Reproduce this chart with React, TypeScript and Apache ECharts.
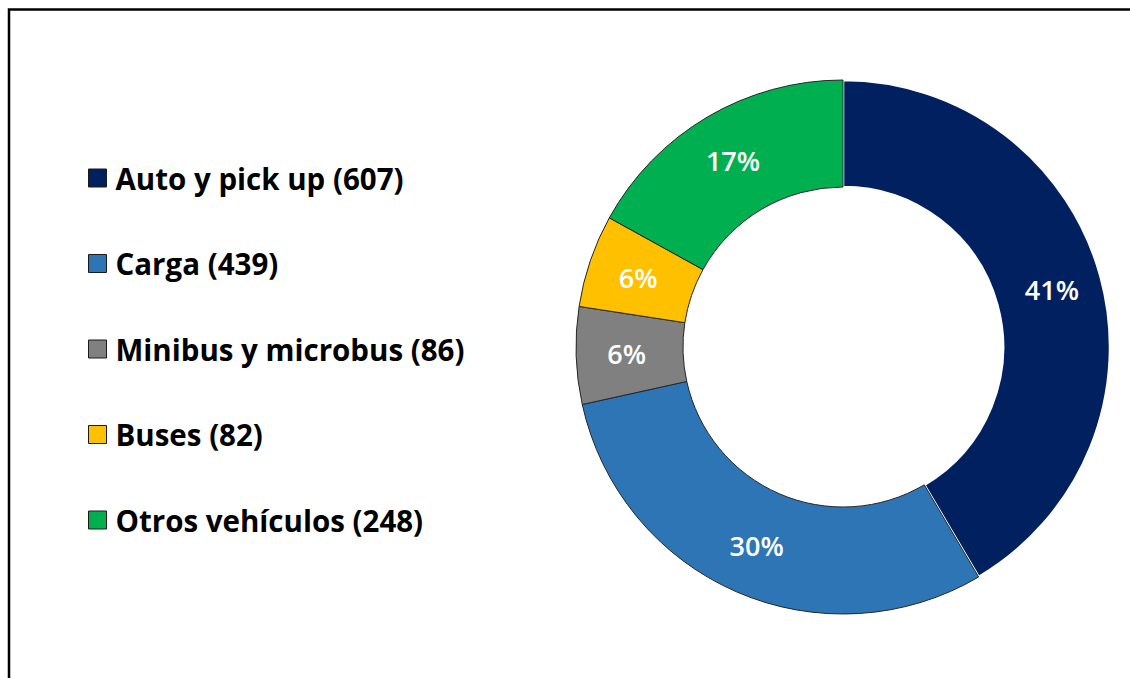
import React, { useEffect, useRef } from "react";
import * as echarts from "echarts";

const categories = ["Auto y pick up", "Carga", "Minibus y microbus", "Buses", "Otros vehículos"];
const counts = [607, 439, 86, 82, 248];
const colors = ["#002060", "#2E75B6", "#808080", "#FFC000", "#00B050"];

export default function App() {
  const ref = useRef<HTMLDivElement>(null);
  useEffect(() => {
    if (!ref.current) return;
    const chart = echarts.init(ref.current, null, { renderer: "svg" });
    chart.setOption({
      animation: false,
      backgroundColor: "#ffffff",
      graphic: [
        {
          type: "rect",
          shape: { x: 9, y: 9.5, width: 1300, height: 900 },
          style: { fill: "none", stroke: "#000000", lineWidth: 2.5 },
          silent: true,
        },
      ],
      legend: {
        orient: "vertical",
        left: 88,
        top: 163,
        padding: 0,
        itemWidth: 18,
        itemHeight: 18,
        itemGap: 55.5,
        icon: "rect",
        itemStyle: { borderColor: "#1a1a1a", borderWidth: 1 },
        formatter: (name: string) => {
          const i = categories.indexOf(name);
          return `${name} (${counts[i]})`;
        },
        textStyle: {
          fontFamily: "Open Sans",
          fontWeight: "bold",
          fontSize: 29.5,
          lineHeight: 30,
          color: "#000000",
          padding: [0, 0, 0, 4],
        },
        data: categories,
      },
      series: [
        {
          type: "pie",
          center: [843, 347],
          radius: [160, 267],
          startAngle: 90,
          clockwise: true,
          percentPrecision: 0,
          avoidLabelOverlap: false,
          label: {
            show: true,
            position: "inside",
            formatter: "{d}%",
            color: "#ffffff",
            fontFamily: "Open Sans",
            fontSize: 27,
            fontWeight: 600,
          },
          labelLine: { show: false },
          itemStyle: { borderColor: "#262626", borderWidth: 1 },
          emphasis: { disabled: true },
          data: categories.map((name, i) => ({
            name,
            value: counts[i],
            itemStyle:
              i === 0
                ? { color: colors[i], borderColor: "#ffffff", borderWidth: 2.5 }
                : { color: colors[i] },
          })),
        },
      ],
    });
    return () => chart.dispose();
  }, []);
  return (
    <div
      ref={ref}
      style={{ position: "fixed", left: 0, top: 0, width: 1130, height: 678 }}
    />
  );
}
